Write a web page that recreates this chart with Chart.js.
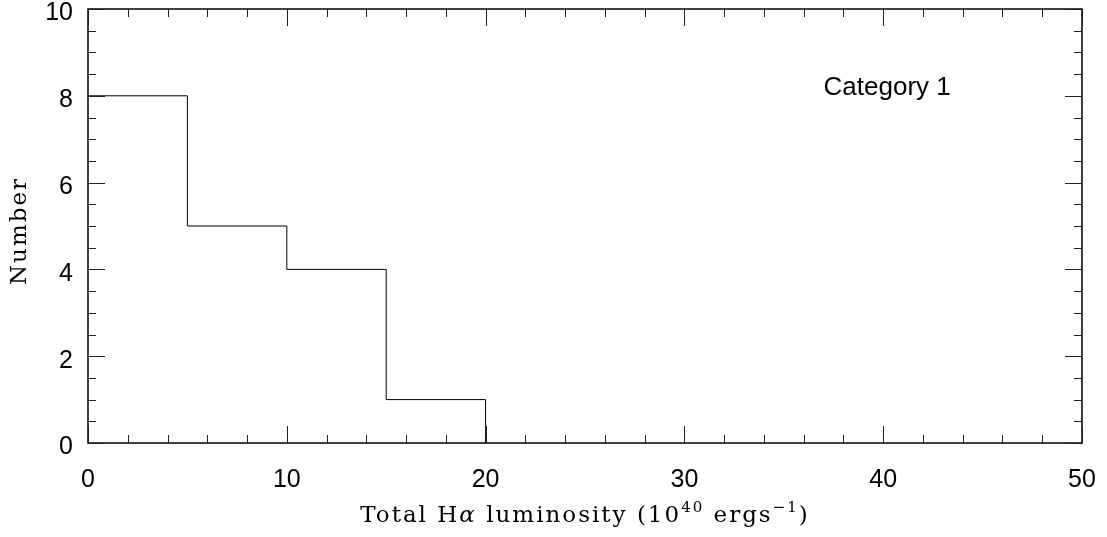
<!DOCTYPE html>
<html>
<head>
<meta charset="utf-8">
<script src="https://cdn.jsdelivr.net/npm/chart.js@4"></script>
<style>
html,body{margin:0;padding:0;background:#fff;}
#wrap{width:1107px;height:537px;position:relative;}
</style>
</head>
<body>
<div id="wrap"><canvas id="c" width="1107" height="537"></canvas></div>
<script>
// Histogram: left bin edges with counts, final point closes the last bin
const binEdges = [0, 5, 10, 15, 20];
const binCounts = [8, 5, 4, 1, 0];
const xTickLabels = [0, 10, 20, 30, 40, 50];
const yTickLabels = [0, 2, 4, 6, 8, 10];
const annotationText = "Category 1";
// x title pieces: [text, style] where style is 'n' normal, 'i' italic, 's' superscript
const xTitleParts = [["Total H", "n"], ["\u03B1", "i"], [" luminosity (10", "n"], ["40", "s"], [" ergs", "n"], ["\u22121", "s"], [")", "n"]];
const yTitle = "Number";

const stepData = binEdges.map((e, i) => ({x: e, y: binCounts[i]}));

const SERIF = '"DejaVu Serif", "Liberation Serif", serif';
function partFont(style) {
  if (style === 'i') return 'italic 23px ' + SERIF;
  if (style === 's') return '15px ' + SERIF;
  return '23px ' + SERIF;
}

const frame = {
  id: 'frame',
  afterDatasetsDraw(chart) {
    const ctx = chart.ctx, a = chart.chartArea;
    const xs = chart.scales.x, ys = chart.scales.y;
    ctx.save();
    ctx.strokeStyle = '#000';
    ctx.lineWidth = 1.5;
    ctx.strokeRect(a.left, a.top, a.right - a.left, a.bottom - a.top);
    ctx.lineWidth = 1;
    ctx.strokeStyle = '#222';
    ctx.beginPath();
    for (let v = 0; v <= 50; v += 2) {
      const px = Math.round(xs.getPixelForValue(v)) + 0.5;
      const len = (v % 10 === 0) ? 17 : 8;
      ctx.moveTo(px, a.bottom); ctx.lineTo(px, a.bottom - len);
      ctx.moveTo(px, a.top); ctx.lineTo(px, a.top + len);
    }
    for (let v = 0; v <= 10; v += 0.5) {
      const py = Math.round(ys.getPixelForValue(v)) + 0.5;
      const len = (Math.abs(v % 2) < 1e-9) ? 17 : 8;
      ctx.moveTo(a.left, py); ctx.lineTo(a.left + len, py);
      ctx.moveTo(a.right, py); ctx.lineTo(a.right - len, py);
    }
    ctx.stroke();
    // annotation
    ctx.fillStyle = '#000';
    ctx.font = '26px "Liberation Sans", Arial, sans-serif';
    ctx.textBaseline = 'middle';
    ctx.textAlign = 'left';
    ctx.fillText(annotationText, xs.getPixelForValue(37.0), ys.getPixelForValue(8.18));
    // x axis title, drawn piecewise for the superscripts
    ctx.textBaseline = 'alphabetic';
    ctx.letterSpacing = '2px';
    let total = 0;
    const widths = xTitleParts.map(([t, s]) => { ctx.font = partFont(s); const w = ctx.measureText(t).width; total += w; return w; });
    let x = (a.left + a.right) / 2 - total / 2;
    const base = 522;
    xTitleParts.forEach(([t, s], i) => {
      ctx.font = partFont(s);
      ctx.fillText(t, x, s === 's' ? base - 10 : base);
      x += widths[i];
    });
    // y axis title
    ctx.font = '23px ' + SERIF;
    ctx.textAlign = 'center';
    ctx.textBaseline = 'middle';
    ctx.save();
    ctx.translate(20, 231);
    ctx.rotate(-Math.PI / 2);
    ctx.fillText(yTitle, 0, 0);
    ctx.restore();
    ctx.restore();
  }
};

new Chart(document.getElementById('c'), {
  type: 'line',
  data: {
    datasets: [{
      data: stepData,
      stepped: 'before',
      borderColor: '#000',
      borderWidth: 1,
      pointRadius: 0,
      fill: false
    }]
  },
  options: {
    responsive: false,
    animation: false,
    devicePixelRatio: 1,
    layout: {padding: {left: 0, right: 25, top: 9, bottom: 0}},
    plugins: {legend: {display: false}, tooltip: {enabled: false}},
    scales: {
      x: {
        type: 'linear', min: 0, max: 50,
        border: {display: false},
        grid: {display: false, drawTicks: false},
        ticks: {
          stepSize: 2, autoSkip: false, maxRotation: 0, padding: 22,
          color: '#000',
          font: {family: '"Liberation Sans", Arial, sans-serif', size: 25},
          callback: v => xTickLabels.includes(v) ? String(v) : ''
        },
        afterFit: s => { s.height = 94; s.paddingLeft = 0; s.paddingRight = 0; }
      },
      y: {
        type: 'linear', min: 0, max: 10,
        border: {display: false},
        grid: {display: false, drawTicks: false},
        ticks: {
          stepSize: 0.5, autoSkip: false, padding: 15, labelOffset: 4.5,
          color: '#000',
          font: {family: '"Liberation Sans", Arial, sans-serif', size: 25},
          callback: v => yTickLabels.includes(v) ? String(v) : ''
        },
        afterFit: s => { s.width = 88; s.paddingTop = 0; s.paddingBottom = 0; }
      }
    }
  },
  plugins: [frame]
});
</script>
</body>
</html>
